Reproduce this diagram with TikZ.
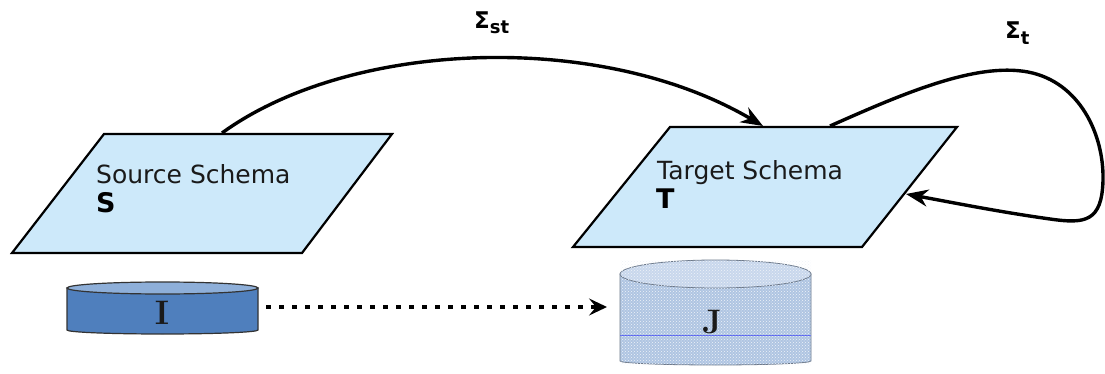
\documentclass[tikz,border=0pt]{standalone}
\usepackage{fontspec}
\newfontfamily\dv{DejaVu Sans}
\usetikzlibrary{arrows.meta,patterns}
\definecolor{schemafill}{HTML}{CDE9FA}
\definecolor{idark}{HTML}{4F7FBD}
\definecolor{itop}{HTML}{8EAFD9}
\definecolor{jbody}{HTML}{AFC5E2}
\definecolor{jtop}{HTML}{C8D7EC}
\definecolor{txt}{HTML}{1A1A1A}
\begin{document}
\begin{tikzpicture}[x=1pt,y=-1pt,
  schema/.style={fill=schemafill,draw=black,line width=2.2pt,line join=miter},
  link/.style={line width=3.4pt,-{Stealth[length=22pt,width=17pt,inset=7pt]}},
  dotlink/.style={line width=3.5pt,dash pattern=on 4.5pt off 8.5pt,-{Stealth[length=18pt,width=17pt,inset=7pt]}},
  schematext/.style={font=\dv\fontsize{25}{25}\selectfont,text=txt,anchor=base west,inner sep=0},
  schemaletter/.style={font=\dv\bfseries\fontsize{27}{27}\selectfont,anchor=base west,inner sep=0},
  sigma/.style={font=\dv\bfseries\fontsize{23}{23}\selectfont,anchor=base west,inner sep=0},
  dblabel/.style={font=\bfseries\fontsize{34}{34}\selectfont,text=txt,anchor=base,inner sep=0}]
\useasboundingbox (0,0) rectangle (1105,374);
% schemas
\draw[schema] (104,134) -- (392,134) -- (302,253) -- (12,253) -- cycle;
\draw[schema] (670,127) -- (957,127) -- (862,247) -- (573,247) -- cycle;
\node[schematext] (srcname) at (96,184) {Source Schema};
\node[schemaletter] (srcS) at (96,212) {S};
\node[schematext] (tgtname) at (657,180) {Target Schema};
\node[schemaletter] (tgtT) at (656,208) {T};
% cylinder I
\path[fill=idark,draw=black!80,line width=1.2pt] (67,288) -- (67,330) arc[start angle=180,end angle=0,x radius=95.5,y radius=4] -- (258,288) -- cycle;
\draw[fill=itop,draw=black!80,line width=1.2pt] (162.5,288) ellipse[x radius=95.5,y radius=6];
\node[dblabel] (ilab) at (162,324) {I};
% cylinder J
\path[fill=jbody,draw=jbody!60!black,line width=0.8pt] (620,274) -- (620,361) arc[start angle=180,end angle=0,x radius=95.5,y radius=4] -- (811,274) -- cycle;
\draw[fill=jtop,draw=jbody!60!black,line width=0.8pt] (715.5,274) ellipse[x radius=95.5,y radius=14];
\draw[jbody!50!blue,line width=0.8pt] (620,335) -- (811,335);
\path[pattern=crosshatch dots,pattern color=white!80!jbody] (620,260) rectangle (811,365);
\node[dblabel] (jlab) at (712,333) {J};
% connector ends
\coordinate (stA) at (222,133);
\coordinate (stB) at (763,126);
\coordinate (tA) at (830,126);
\coordinate (tB) at (906,194);
\coordinate (iE) at (266,307);
\coordinate (jW) at (607,307);
% connectors
\draw[link] (stA) .. controls (350,40) and (600,30) .. (stB);
\draw[link] (tA) .. controls (900,95) and (975,62) .. (1028,72) .. controls (1080,82) and (1104,135) .. (1103,180) .. controls (1102,222) and (1085,224) .. (1050,219) .. controls (1000,212) and (955,203) .. (tB);
\draw[dotlink] (iE) -- (jW);
% labels
\node[sigma] (sst) at (474,29) {Σ\raisebox{-5pt}{\fontsize{18}{18}\selectfont st}};
\node[sigma] (st) at (1005,39) {Σ\raisebox{-6pt}{\fontsize{18}{18}\selectfont t}};
\end{tikzpicture}
\end{document}
